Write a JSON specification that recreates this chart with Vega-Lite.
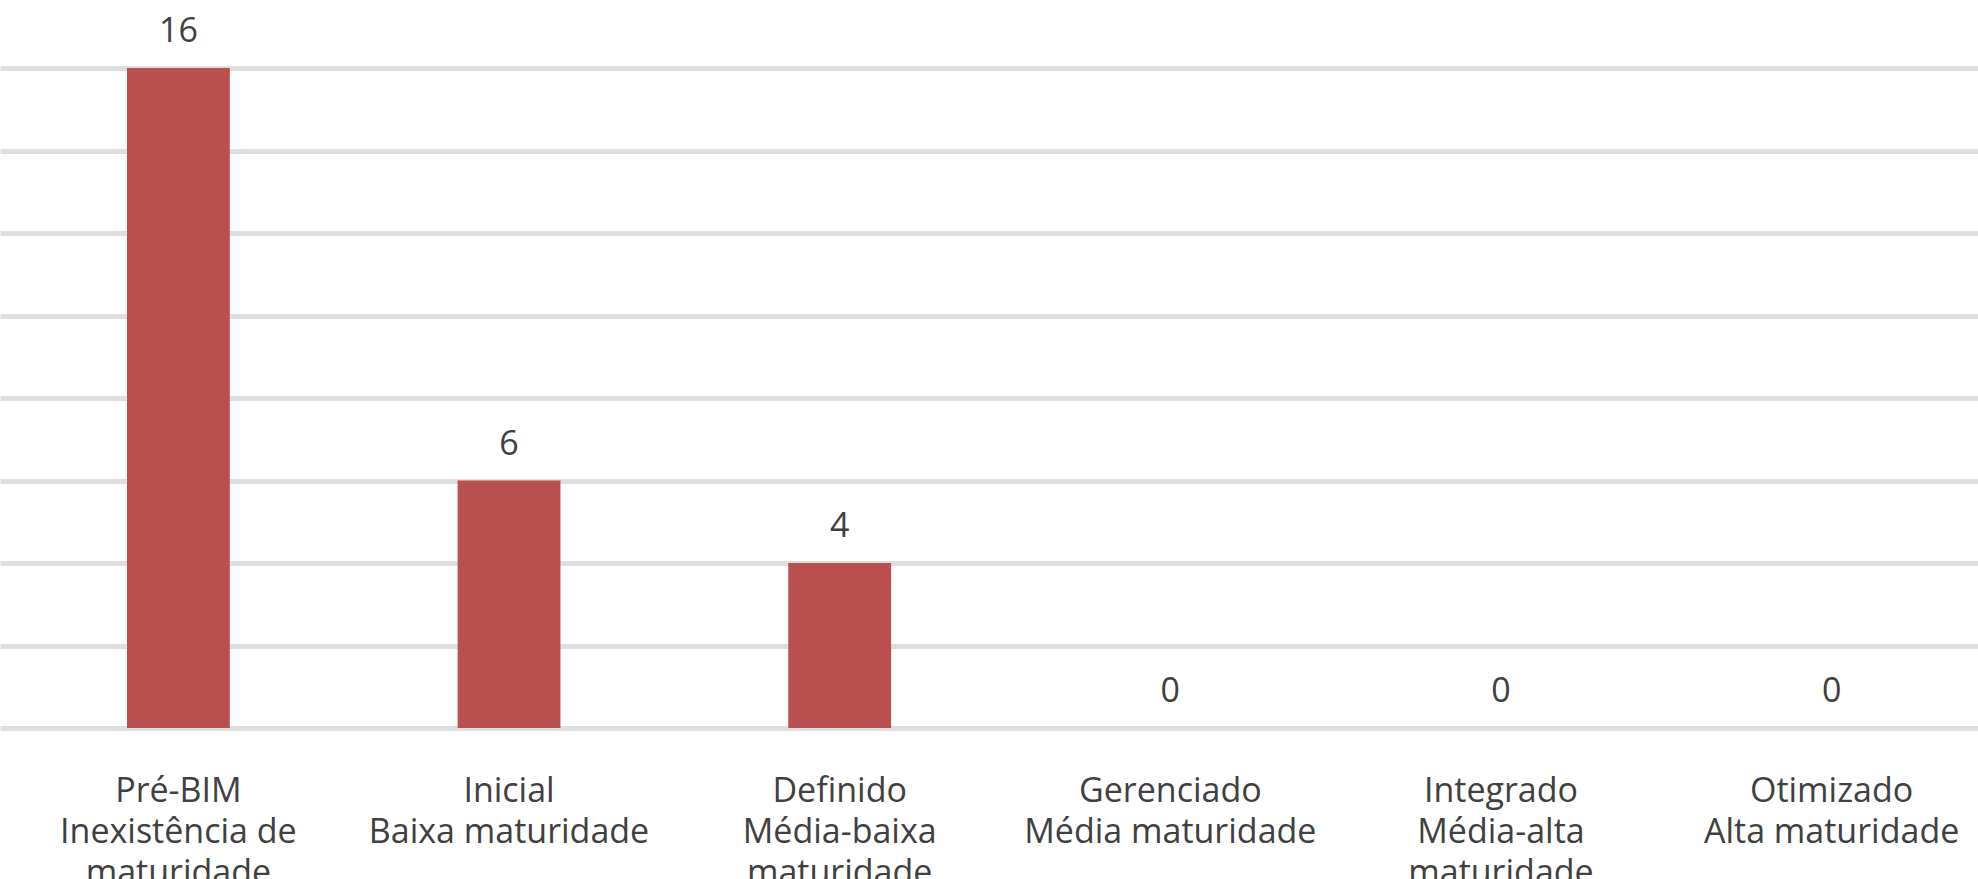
{
  "$schema": "https://vega.github.io/schema/vega-lite/v6.json",
  "autosize": "none",
  "width": 2010,
  "height": 660,
  "padding": {"left": 0, "top": 68, "right": -32, "bottom": 151},
  "background": "white",
  "config": {
    "view": {"stroke": null},
    "font": "Open Sans"
  },
  "data": {
    "values": [
      {"nivel": "Pré-BIM|Inexistência de|maturidade", "qtd": 16},
      {"nivel": "Inicial|Baixa maturidade", "qtd": 6},
      {"nivel": "Definido|Média-baixa|maturidade", "qtd": 4},
      {"nivel": "Gerenciado|Média maturidade", "qtd": 0},
      {"nivel": "Integrado|Média-alta|maturidade", "qtd": 0},
      {"nivel": "Otimizado|Alta maturidade", "qtd": 0}
    ]
  },
  "encoding": {
    "x": {
      "field": "nivel",
      "type": "nominal",
      "sort": null,
      "scale": {"paddingInner": 0.689, "paddingOuter": 0.384},
      "axis": {
        "title": null,
        "labelAngle": 0,
        "labelExpr": "split(datum.value, '|')",
        "labelFontSize": 34,
        "labelColor": "#404040",
        "labelLineHeight": 41,
        "labelPadding": 46,
        "labelBaseline": "top",
        "labelOverlap": false,
        "labelBound": false,
        "labelFlush": false,
        "labelLimit": 0,
        "domain": false,
        "ticks": false
      }
    },
    "y": {
      "field": "qtd",
      "type": "quantitative",
      "scale": {"domain": [0, 16], "nice": false},
      "axis": {
        "title": null,
        "labels": false,
        "ticks": false,
        "domain": false,
        "values": [0, 2, 4, 6, 8, 10, 12, 14, 16],
        "gridColor": "#dedede",
        "gridWidth": 5
      }
    }
  },
  "layer": [
    {"mark": {"type": "bar", "color": "#b94f4f"}},
    {
      "mark": {"type": "text", "dy": -26, "baseline": "alphabetic", "fontSize": 34, "color": "#404040"},
      "encoding": {"text": {"field": "qtd", "type": "quantitative"}}
    }
  ]
}
